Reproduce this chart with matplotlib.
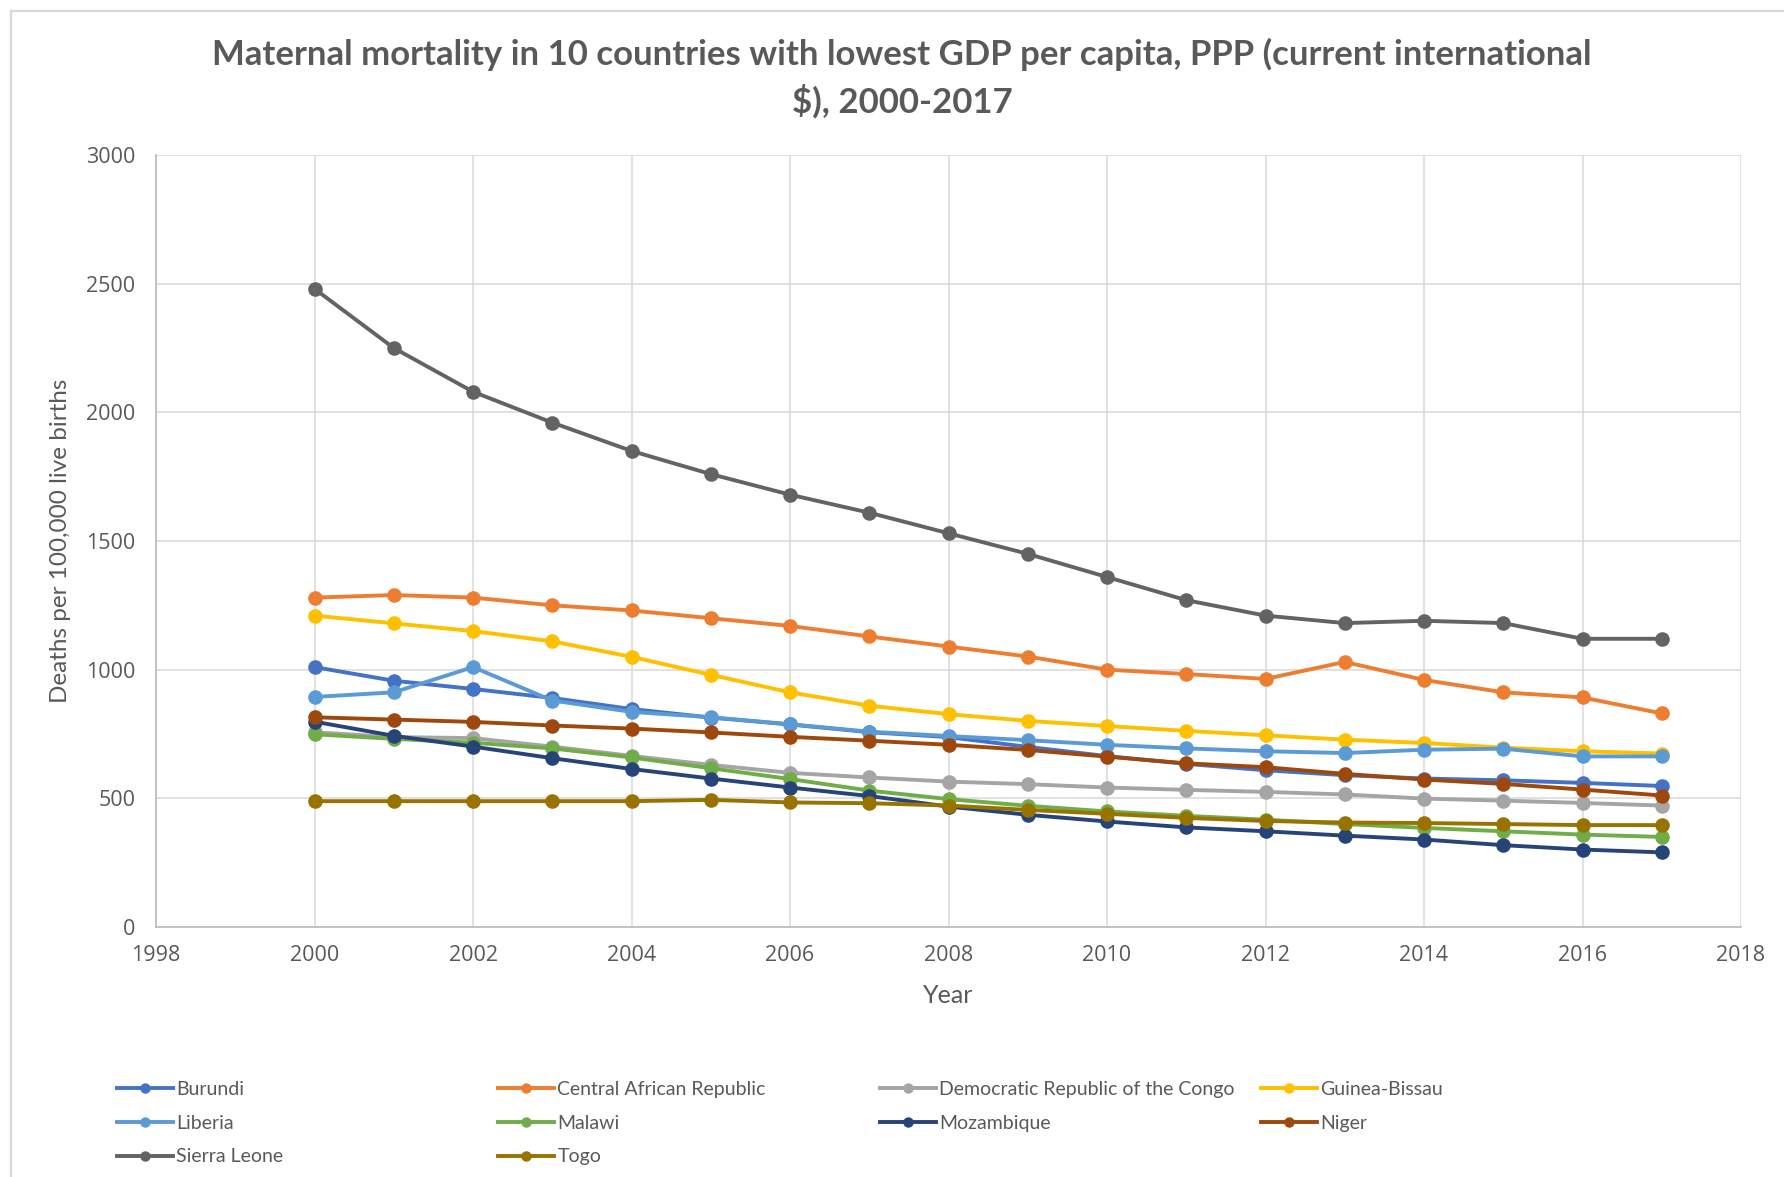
import matplotlib
matplotlib.use("Agg")
import matplotlib.pyplot as plt
from matplotlib.lines import Line2D

# Maternal mortality ratio (deaths per 100,000 live births), 2000-2017
years = list(range(2000, 2018))

burundi = [1010, 957, 925, 890, 847, 814, 787, 757, 738, 700, 664, 634, 609, 590, 577, 570, 560, 548]
central_african_republic = [1280, 1290, 1280, 1250, 1230, 1200, 1170, 1129, 1090, 1051, 1000, 983, 964, 1030, 960, 912, 892, 830]
dr_congo = [757, 738, 734, 701, 665, 630, 599, 581, 565, 555, 542, 533, 525, 515, 499, 491, 482, 472]
guinea_bissau = [1210, 1180, 1150, 1110, 1050, 980, 912, 860, 827, 801, 781, 762, 745, 728, 715, 697, 683, 674]
liberia = [894, 912, 1010, 880, 836, 815, 788, 759, 742, 726, 708, 694, 683, 676, 689, 693, 663, 663]
malawi = [749, 731, 716, 694, 659, 617, 575, 530, 497, 471, 449, 432, 417, 400, 385, 372, 359, 350]
mozambique = [798, 743, 701, 656, 614, 577, 542, 509, 468, 436, 410, 387, 372, 355, 340, 318, 301, 290]
niger = [815, 806, 797, 783, 771, 756, 739, 724, 708, 688, 662, 636, 621, 595, 573, 556, 534, 511]
sierra_leone = [2480, 2250, 2080, 1960, 1850, 1760, 1680, 1610, 1530, 1450, 1360, 1270, 1210, 1181, 1190, 1181, 1120, 1120]
togo = [489, 489, 489, 489, 489, 494, 484, 481, 472, 455, 440, 424, 412, 406, 404, 400, 396, 396]

countries = ["Burundi", "Central African Republic", "Democratic Republic of the Congo",
             "Guinea-Bissau", "Liberia", "Malawi", "Mozambique", "Niger",
             "Sierra Leone", "Togo"]
series = [burundi, central_african_republic, dr_congo, guinea_bissau, liberia,
          malawi, mozambique, niger, sierra_leone, togo]
colors = ["#4472C4", "#ED7D31", "#A5A5A5", "#FFC000", "#5B9BD5",
          "#70AD47", "#264478", "#9E480E", "#636363", "#997300"]

x_ticks = list(range(1998, 2019, 2))
y_ticks = list(range(0, 3001, 500))

narrow = ["Lato", "DejaVu Sans"]
tick_font = ["Open Sans", "DejaVu Sans"]
text_color = "#595959"
grid_color = "#D9D9D9"

W, H = 1784, 1177
fig = plt.figure(figsize=(W / 100, H / 100), dpi=100)

# chart-area border (top and left edges)
fig.add_artist(Line2D([11 / W, 1.0], [1 - 11 / H, 1 - 11 / H], color=grid_color, lw=1.6,
                      transform=fig.transFigure))
fig.add_artist(Line2D([11 / W, 11 / W], [0.0, 1 - 11 / H], color=grid_color, lw=1.6,
                      transform=fig.transFigure))

ax = fig.add_axes([156 / W, 1 - 927 / H, (1741 - 156) / W, (927 - 155) / H])

handles = []
for i, (name, vals, col) in enumerate(zip(countries, series, colors)):
    ax.plot(years, vals, color=col, lw=2.8, marker="o", markersize=10.5,
            markeredgewidth=0, zorder=3 + i, solid_capstyle="round")
    handles.append(Line2D([], [], color=col, lw=2.8, marker="o", markersize=7.5,
                          markeredgewidth=0))

ax.set_xlim(1998, 2018)
ax.set_ylim(0, 3000)
ax.set_xticks(x_ticks)
ax.set_yticks(y_ticks)
ax.grid(True, color=grid_color, lw=1.1, zorder=0)
for side in ["top", "right"]:
    ax.spines[side].set_visible(False)
for side in ["left", "bottom"]:
    ax.spines[side].set_color("#BFBFBF")
    ax.spines[side].set_linewidth(1.3)
ax.tick_params(length=0, colors=text_color, labelsize=15.5)
ax.tick_params(axis="y", pad=15)
ax.tick_params(axis="x", pad=13)
for lab in ax.get_xticklabels() + ax.get_yticklabels():
    lab.set_fontfamily(tick_font)

ax.set_xlabel("Year", fontsize=18, color=text_color, family=narrow, labelpad=13)
ax.set_ylabel("Deaths per 100,000 live births", fontsize=17.5, color=text_color,
              family=narrow, labelpad=11)

fig.text(902 / W, 1 - 78 / H,
         "Maternal mortality in 10 countries with lowest GDP per capita, PPP (current international\n$), 2000-2017",
         ha="center", va="center", fontsize=25, fontweight="bold", color=text_color,
         family=narrow, linespacing=1.45)

# legend laid out as four evenly spaced columns, filled row by row
col_x = [117, 498, 880, 1261]
n_cols = 4
for c in range(n_cols):
    idx = list(range(c, len(countries), n_cols))
    leg = fig.legend([handles[i] for i in idx], [countries[i] for i in idx],
                     loc="upper left", bbox_to_anchor=(col_x[c] / W, 1 - 1081 / H),
                     frameon=False, handlelength=2.9, handletextpad=0.15,
                     labelspacing=0.86, borderaxespad=0, borderpad=0,
                     prop={"family": narrow, "size": 14})
    for t in leg.get_texts():
        t.set_color(text_color)

fig.savefig("out.png", dpi=100)
